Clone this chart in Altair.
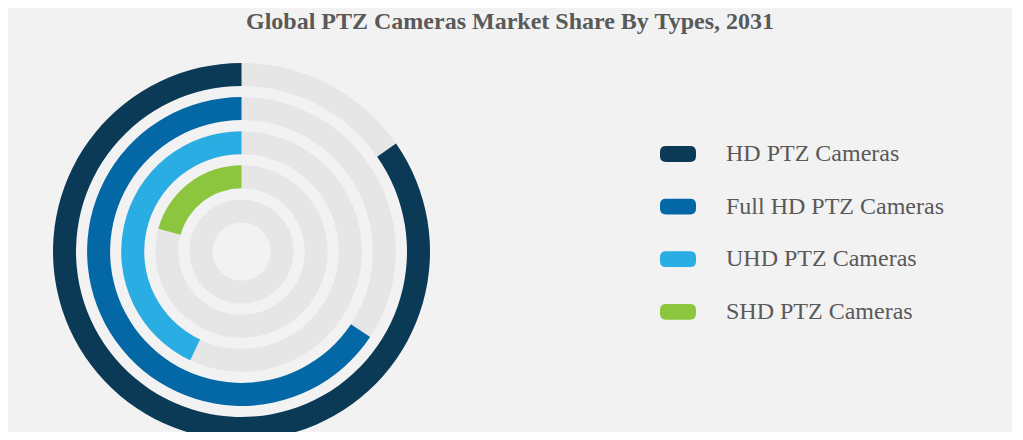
import altair as alt
import pandas as pd

# ---- data ----
types = ["HD PTZ Cameras", "Full HD PTZ Cameras", "UHD PTZ Cameras", "SHD PTZ Cameras"]
shares = [39.6, 30.7, 20.1, 9.7]
rings = [0, 1, 2, 3]
colors = ["#0b3a56", "#0568a6", "#29ade3", "#8cc63f"]
track_rings = [0, 1, 2, 3, 4]
axis_max = 46.75
title_text = "Global PTZ Cameras Market Share By Types, 2031"

bars = pd.DataFrame({"type": types, "share": shares, "ring": rings})
tracks = pd.DataFrame({"ring": track_rings})

band = 23.0 / 34.1
theta_scale = alt.Scale(domain=[0, axis_max], range=[6.283185307179586, 0])
radius_scale = alt.Scale(type="linear", zero=False, domain=[0, 5], range=[188.5, 18.0])

cx = alt.value(233.5)
cy = alt.value(203.5)

track_layer = alt.Chart(tracks).transform_calculate(
    t0="0", t1=str(axis_max), inner=f"datum.ring + {band}"
).mark_arc(color="#e6e6e6").encode(
    theta=alt.Theta("t0:Q", scale=theta_scale),
    theta2="t1:Q",
    radius=alt.Radius("ring:Q", scale=radius_scale),
    radius2="inner:Q",
    x=cx, y=cy,
)

rounded = ("M-0.67,-0.44 L0.67,-0.44 Q1,-0.44 1,-0.11 L1,0.11 Q1,0.44 0.67,0.44 "
           "L-0.67,0.44 Q-1,0.44 -1,0.11 L-1,-0.11 Q-1,-0.44 -0.67,-0.44 Z")

bar_layer = alt.Chart(bars).transform_calculate(
    zero="0", inner=f"datum.ring + {band}"
).mark_arc().encode(
    theta=alt.Theta("share:Q", scale=theta_scale),
    theta2="zero:Q",
    radius=alt.Radius("ring:Q", scale=radius_scale),
    radius2="inner:Q",
    x=cx, y=cy,
    color=alt.Color(
        "type:N",
        scale=alt.Scale(domain=types, range=colors),
        legend=alt.Legend(
            title=None,
            orient="none",
            legendX=652,
            legendY=88,
            direction="vertical",
            symbolType=rounded,
            symbolSize=1296,
            symbolStrokeWidth=0,
            symbolOpacity=1,
            labelFont="Liberation Serif",
            labelFontSize=24,
            labelColor="#595959",
            labelOffset=30,
            labelLimit=400,
            rowPadding=22.6,
        ),
    ),
)

chart = alt.layer(track_layer, bar_layer).properties(
    width=1004,
    height=384,
    autosize=alt.AutoSizeParams(type="none"),
    padding={"left": 0, "top": 40, "right": 0, "bottom": 0},
    background="#f2f2f2",
    title=alt.TitleParams(
        title_text,
        font="Liberation Serif",
        fontSize=24,
        fontWeight="bold",
        color="#595959",
        anchor="middle",
        offset=14,
    ),
).configure_view(stroke=None)

chart.save("out.html", embed_options={"renderer": "svg", "actions": False})
